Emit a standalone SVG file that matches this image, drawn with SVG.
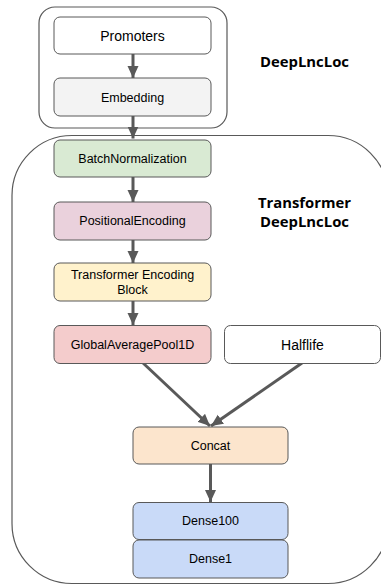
<svg xmlns="http://www.w3.org/2000/svg" width="381" height="585" viewBox="0 0 381 585">
<style>
.box{stroke:#595959;stroke-width:1}
.cont{fill:#ffffff;stroke:#595959;stroke-width:1.2}
.t{font-family:"Liberation Sans",Arial,sans-serif;font-size:12.5px;fill:#000;text-anchor:middle}
.tl{font-size:14px}
.title{font-family:"Open Sans",sans-serif;font-weight:bold;font-size:15px;fill:#000}
.c{stroke:#595959;stroke-width:3;fill:none}
</style>
<defs>
<marker id="ah" markerUnits="userSpaceOnUse" markerWidth="13" markerHeight="12" refX="12" refY="6" orient="auto">
<path d="M0,0.5 L12,6 L0,11.5 z" fill="#595959"/>
</marker>
</defs>
<g id="deeplncloc-container">
<rect class="cont" x="39" y="7" width="188" height="121" rx="16"/>
</g>
<g id="transformer-container">
<rect class="cont" x="12" y="135.5" width="376" height="448" rx="60"/>
</g>
<g id="connectors">
<line class="c" x1="133" y1="54" x2="133" y2="78" marker-end="url(#ah)"/>
<line class="c" x1="133" y1="116" x2="133" y2="138.5" marker-end="url(#ah)"/>
<line class="c" x1="133" y1="177" x2="133" y2="202" marker-end="url(#ah)"/>
<line class="c" x1="133" y1="240" x2="133" y2="263" marker-end="url(#ah)"/>
<line class="c" x1="133" y1="301" x2="133" y2="325" marker-end="url(#ah)"/>
<line class="c" x1="143" y1="363" x2="210" y2="426" marker-end="url(#ah)"/>
<line class="c" x1="302" y1="363" x2="211" y2="426" marker-end="url(#ah)"/>
<line class="c" x1="210.5" y1="464" x2="210.5" y2="502" marker-end="url(#ah)"/>
</g>
<g id="promoters">
<rect class="box" x="54" y="17" width="157" height="37" rx="6" fill="#ffffff"/>
<text class="t tl" x="132.5" y="40.5">Promoters</text>
</g>
<g id="embedding">
<rect class="box" x="54" y="78" width="157" height="38" rx="6" fill="#f3f3f3"/>
<text class="t" x="132.5" y="101.5">Embedding</text>
</g>
<g id="batchnorm">
<rect class="box" x="54" y="140" width="157" height="37" rx="6" fill="#d9ead3"/>
<text class="t" x="132.5" y="163">BatchNormalization</text>
</g>
<g id="posenc">
<rect class="box" x="54" y="202" width="157" height="38" rx="6" fill="#ead1dc"/>
<text class="t" x="132.5" y="225">PositionalEncoding</text>
</g>
<g id="teb">
<rect class="box" x="54" y="263" width="157" height="38" rx="6" fill="#fff2cc"/>
<text class="t" x="132.5" y="279">Transformer Encoding</text>
<text class="t" x="132.5" y="294">Block</text>
</g>
<g id="gap">
<rect class="box" x="54" y="325.5" width="157" height="38" rx="6" fill="#f4cccc"/>
<text class="t" x="132.5" y="349">GlobalAveragePool1D</text>
</g>
<g id="halflife">
<rect class="box" x="224.5" y="325.5" width="156" height="38" rx="6" fill="#ffffff"/>
<text class="t tl" x="302.5" y="349.5">Halflife</text>
</g>
<g id="concat">
<rect class="box" x="133" y="427" width="155" height="37" rx="6" fill="#fce5cd"/>
<text class="t" x="210.5" y="450">Concat</text>
</g>
<g id="dense100">
<rect class="box" x="133" y="502.5" width="155" height="37" rx="6" fill="#c9daf8"/>
<text class="t" x="210.5" y="525">Dense100</text>
</g>
<g id="dense1">
<rect class="box" x="133" y="540" width="155" height="38" rx="6" fill="#c9daf8"/>
<text class="t" x="210.5" y="563">Dense1</text>
</g>
<g id="labels">
<text class="title" x="260" y="67" textLength="89" lengthAdjust="spacingAndGlyphs">DeepLncLoc</text>
<text class="title" x="258" y="208" textLength="93" lengthAdjust="spacingAndGlyphs">Transformer</text>
<text class="title" x="260" y="227" textLength="89" lengthAdjust="spacingAndGlyphs">DeepLncLoc</text>
</g>
</svg>
